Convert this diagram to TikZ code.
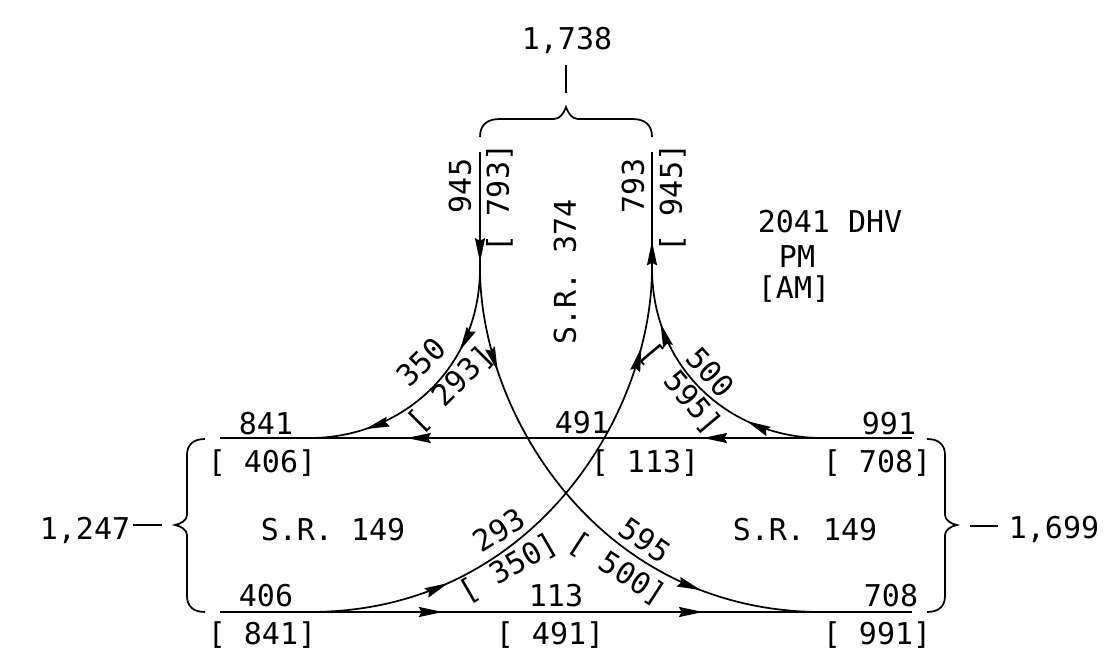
\documentclass[tikz,border=0pt]{standalone}
\usepackage{fontspec}
\setmonofont{DejaVu Sans Mono}
\usetikzlibrary{arrows.meta,decorations.markings}
\tikzset{
  flowtip/.tip={Stealth[length=18pt,width=7.5pt,inset=2pt]},
  road/.style={line width=1.3pt},
  brace/.style={line width=1.3pt},
  lab/.style={font=\ttfamily\fontsize{22.5}{24}\selectfont, inner sep=0pt, text height=16.4pt, text depth=0pt},
  arrs/.style 2 args={postaction={decorate}, decoration={markings,
      mark=at position #1 with {\arrow{flowtip}},
      mark=at position #2 with {\arrow{flowtip}}}},
  arrone/.style={postaction={decorate}, decoration={markings,
      mark=at position #1 with {\arrow{flowtip}}}}
}
\begin{document}
\begin{tikzpicture}[x=0.75pt,y=-0.75pt]
\path[fill=white,use as bounding box] (0,0) rectangle (1110,656);

% end points
\coordinate (wbE) at (912,438); \coordinate (wbW) at (220,438);
\coordinate (ebW) at (220,612); \coordinate (ebE) at (912,612);
\coordinate (sbN) at (480,152); \coordinate (sbS) at (480,268);
\coordinate (nbS) at (652,268); \coordinate (nbN) at (652,152);
\coordinate (aEnd) at (310,438); \coordinate (dStart) at (822,438);
\coordinate (cStart) at (310,612); \coordinate (bEnd) at (822,612);

% roads
\draw[road, arrs={0.302}{0.73}] (wbE) -- (wbW);
\draw[road, arrs={0.322}{0.698}] (ebW) -- (ebE);
\draw[road, arrone=0.95] (sbN) -- (sbS);
\draw[road, arrone=0.23] (nbS) -- (nbN);
\draw[road, arrs={0.32}{0.79}] (sbS) .. controls (480,370) and (400,438) .. (aEnd);
\draw[road, arrs={0.195}{0.77}] (sbS) .. controls (480,415) and (600,612) .. (bEnd);
\draw[road, arrs={0.265}{0.85}] (cStart) .. controls (532,612) and (652,415) .. (nbS);
\draw[road, arrs={0.29}{0.79}] (dStart) .. controls (732,438) and (652,370) .. (nbS);

% braces
\draw[brace] (480,137) .. controls (480,124) and (488,119) .. (500,119) -- (554,119)
  .. controls (560,119) and (564,113) .. (566,107)
  .. controls (568,113) and (572,119) .. (578,119) -- (632,119)
  .. controls (644,119) and (652,124) .. (652,137);
\coordinate (topTick) at (566,93);
\draw[brace] (topTick) -- (566,65);
\draw[brace] (205,439) .. controls (193,439) and (187,445) .. (187,455) -- (187,515)
  .. controls (187,520) and (181,524) .. (175,525)
  .. controls (181,526) and (187,530) .. (187,535) -- (187,596)
  .. controls (187,606) and (193,612) .. (205,612);
\draw[brace] (927,439) .. controls (939,439) and (945,445) .. (945,455) -- (945,515)
  .. controls (945,520) and (951,524) .. (957,525)
  .. controls (951,526) and (945,530) .. (945,535) -- (945,596)
  .. controls (945,606) and (939,612) .. (927,612);

% totals
\node[lab] (t1738) at (567,39) {1,738};
\node[lab] (t1247) at (85,529) {1,247};
\node[lab] (t1699) at (1054,528) {1,699};
\draw[brace] (133,525) -- (162,525);
\draw[brace] (970,526) -- (998,526);

% vertical labels
\node[lab, rotate=90] (n945) at (460,186) {945};
\node[lab, rotate=90] (n793b) at (498,198) {[ 793]};
\node[lab, rotate=90] (n793) at (633,186) {793};
\node[lab, rotate=90] (n945b) at (671,198) {[ 945]};
\node[lab, rotate=90] (sr374) at (565,272) {S.R. 374};

% legend
\node[lab] (dhv) at (830,222) {2041 DHV};
\node[lab] (pm) at (797,257) {PM};
\node[lab] (am) at (794,288) {[AM]};

% straight road labels
\node[lab] (n841) at (266,424) {841};
\node[lab] (n406b) at (262,462) {[ 406]};
\node[lab] (n406) at (266,596) {406};
\node[lab] (n841b) at (262,634) {[ 841]};
\node[lab] (n491) at (582,423) {491};
\node[lab] (n113b) at (645,462) {[ 113]};
\node[lab] (n113) at (556,596) {113};
\node[lab] (n491b) at (550,634) {[ 491]};
\node[lab] (n991) at (889,424) {991};
\node[lab] (n708b) at (877,462) {[ 708]};
\node[lab] (n708) at (891,596) {708};
\node[lab] (n991b) at (877,634) {[ 991]};
\node[lab] (sr149w) at (333,530) {S.R. 149};
\node[lab] (sr149e) at (805,530) {S.R. 149};

% turning labels
\node[lab, rotate=45] (n350) at (421,362) {350};
\node[lab, rotate=45] (n293b) at (450,388) {[ 293]};
\node[lab, rotate=-48] (n500) at (711,372) {500};
\node[lab, rotate=-50] (n595b) at (682,388) {[ 595]};
\node[lab, rotate=32] (n293) at (499,530) {293};
\node[lab, rotate=30] (n350b) at (508,567) {[ 350]};
\node[lab, rotate=-35] (n595) at (645,540) {595};
\node[lab, rotate=-33] (n500b) at (618,568) {[ 500]};
\end{tikzpicture}
\end{document}
